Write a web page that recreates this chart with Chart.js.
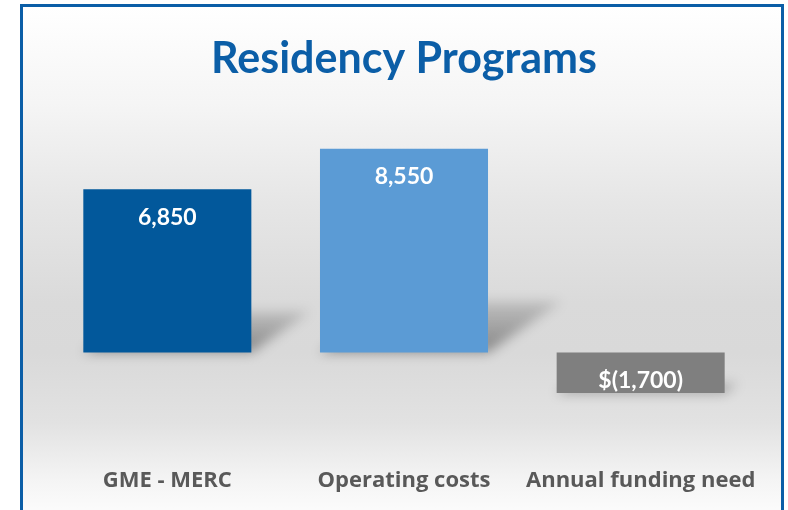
<!DOCTYPE html>
<html>
<head>
<meta charset="utf-8">
<script src="https://cdn.jsdelivr.net/npm/chart.js@4/dist/chart.umd.min.js"></script>
<style>
  html, body { margin: 0; padding: 0; background: #ffffff; overflow: hidden; }
  #frame {
    position: absolute; left: 20px; top: 4px; width: 764px; height: 520px;
    box-sizing: border-box; border: 3px solid #0b5ea7; border-bottom: none;
    background: linear-gradient(to bottom, #ffffff 0px, #f5f5f5 96px, #e6e6e6 196px,
      #dadada 296px, #d9d9d9 346px, #e2e2e2 416px, #f5f5f5 476px, #fcfcfc 506px);
  }
  #wrap { position: absolute; left: 0; top: 0; width: 788px; height: 510px; }
</style>
</head>
<body>
<div id="frame"></div>
<div id="wrap"><canvas id="fundingChart" width="788" height="510"></canvas></div>
<script>
const categories = ['GME - MERC', 'Operating costs', 'Annual funding need'];
const amounts = [6850, 8550, -1700];
const barColors = ['#02589b', '#5b9bd5', '#7f7f7f'];

function formatAmount(v) {
    if (v < 0) return '$(' + Math.abs(v).toLocaleString('en-US') + ')';
    return v.toLocaleString('en-US');
}

// soft perspective shadow behind each bar (Excel style)
const barShadows = {
    id: 'barShadows',
    beforeDatasetsDraw(chart) {
        const ctx = chart.ctx;
        chart.getDatasetMeta(0).data.forEach(function(bar) {
            const xl = bar.x - bar.width / 2;
            const xr = bar.x + bar.width / 2;
            const bottom = Math.max(bar.y, bar.base);
            const h = Math.abs(bar.y - bar.base);
            const dx = h * 0.36, dy = h * 0.25;
            ctx.save();
            ctx.filter = 'blur(6px)';
            const g = ctx.createLinearGradient(0, bottom, 0, bottom - dy);
            g.addColorStop(0, 'rgba(0,0,0,0.38)');
            g.addColorStop(1, 'rgba(0,0,0,0.12)');
            ctx.fillStyle = g;
            ctx.beginPath();
            ctx.moveTo(xl, bottom);
            ctx.lineTo(xr, bottom);
            ctx.lineTo(xr + dx, bottom - dy);
            ctx.lineTo(xl + dx, bottom - dy);
            ctx.closePath();
            ctx.fill();
            ctx.restore();
        });
    }
};

// value labels inside the end of each bar
const valueLabels = {
    id: 'valueLabels',
    afterDatasetsDraw(chart) {
        const ctx = chart.ctx;
        const values = chart.data.datasets[0].data;
        ctx.save();
        ctx.font = 'bold 23px Lato, "Open Sans", sans-serif';
        ctx.fillStyle = '#ffffff';
        ctx.textAlign = 'center';
        ctx.textBaseline = 'middle';
        chart.getDatasetMeta(0).data.forEach(function(bar, i) {
            const v = values[i];
            const y = v >= 0 ? bar.y + 28 : bar.y - 12;
            ctx.fillText(formatAmount(v), bar.x, y);
        });
        ctx.restore();
    }
};

new Chart(document.getElementById('fundingChart').getContext('2d'), {
    type: 'bar',
    data: {
        labels: categories,
        datasets: [{
            data: amounts,
            backgroundColor: barColors,
            borderWidth: 0,
            categoryPercentage: 1,
            barPercentage: 0.71
        }]
    },
    options: {
        responsive: false,
        animation: false,
        devicePixelRatio: 1,
        layout: {
            padding: { left: 49, right: 29, top: 0, bottom: 8 }
        },
        scales: {
            x: {
                grid: { display: false, drawTicks: false },
                border: { display: false },
                ticks: {
                    color: '#595959',
                    padding: 8,
                    font: { family: '"Open Sans", Lato, sans-serif', size: 22, weight: 'bold' }
                }
            },
            y: {
                display: false,
                min: -4500,
                max: 10400
            }
        },
        plugins: {
            legend: { display: false },
            tooltip: { enabled: false },
            title: {
                display: true,
                text: 'Residency Programs',
                color: '#0b5ea7',
                font: { family: 'Lato, "Open Sans", sans-serif', size: 43, weight: 'bold' },
                padding: { top: 33, bottom: 20 }
            }
        }
    },
    plugins: [barShadows, valueLabels]
});
</script>
</body>
</html>
